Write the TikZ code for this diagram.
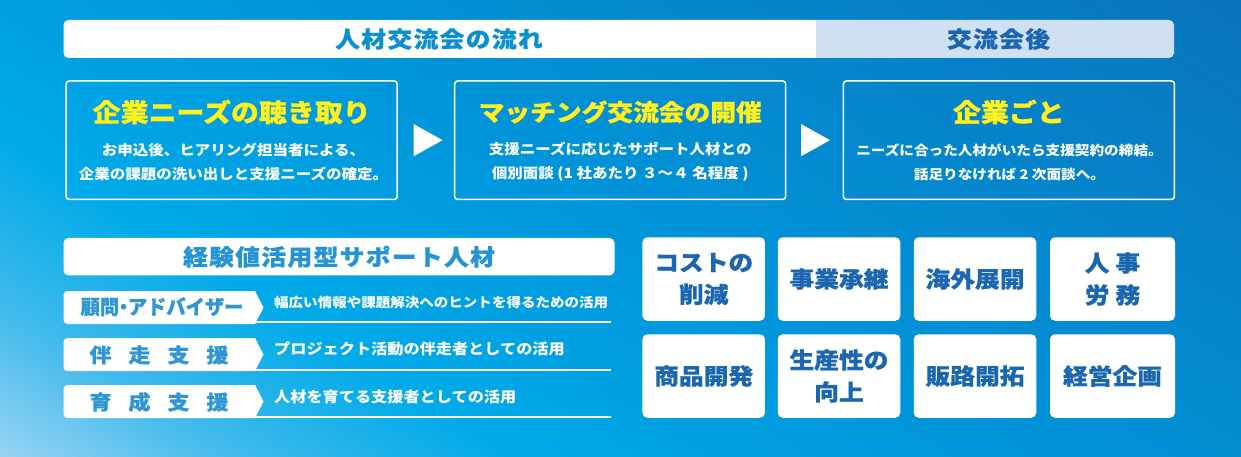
\documentclass[tikz,border=0pt]{standalone}
\usepackage{fontspec}
\setmainfont{Noto Sans CJK JP}[FakeStretch=1.1]
\definecolor{bgA}{HTML}{96D3F3}
\definecolor{bgB}{HTML}{40BAEC}
\definecolor{bgC}{HTML}{00AAE8}
\definecolor{bgD}{HTML}{0095DA}
\definecolor{bgE}{HTML}{0A74BC}
\definecolor{flowblue}{HTML}{0A8FD3}
\definecolor{afterblue}{HTML}{1A66B0}
\definecolor{afterfill}{HTML}{D0E0F3}
\definecolor{tagblue}{HTML}{2F96D6}
\definecolor{titleyellow}{HTML}{FFF01E}
\pgfdeclarehorizontalshading{bgfade}{100bp}{color(0bp)=(bgA); color(35.5bp)=(bgA); color(39bp)=(bgB); color(43bp)=(bgC); color(50bp)=(bgD); color(64.5bp)=(bgE); color(100bp)=(bgE)}
\tikzset{
	px/.style={x=1pt, y=-1pt},
	headtext/.style={font=\fontsize{22.5}{24}\selectfont\bfseries\addfontfeature{LetterSpace=6,FakeBold=0.6}},
	flowbox/.style={draw=white, line width=1.5pt, rounded corners=3pt, minimum width=331pt, minimum height=118.5pt, inner sep=0pt},
	flowtitle/.style={font=\fontsize{25.4}{28}\selectfont\bfseries\addfontfeature{FakeBold=0.6}, text=titleyellow, inner sep=0pt},
	flowsub/.style={font=\fontsize{14.1}{24}\selectfont\bfseries, text=white, align=center, inner sep=0pt},
	tagtext/.style={font=\fontsize{20}{24}\selectfont\bfseries\addfontfeature{FakeBold=0.6}, text=tagblue, inner sep=0pt},
	tagsub/.style={font=\fontsize{14.7}{16}\selectfont\bfseries, text=white, anchor=west, inner sep=0pt},
	chip/.style={fill=white, rounded corners=5pt, minimum width=122.5pt, minimum height=83.5pt, inner sep=0pt, font=\fontsize{22.5}{32}\selectfont\bfseries\addfontfeature{FakeBold=0.6}, text=afterblue, align=center},
}
\begin{document}
\begin{tikzpicture}[px]
	\useasboundingbox (0,0) rectangle (1241,457);
	\begin{scope}
		\clip (0,0) rectangle (1241,457);
		\shade[shading=bgfade, shading angle=58] (-279.5,-671.5) rectangle (1520.5,1128.5);
	\end{scope}

	\fill[white] (816,20) [rounded corners=5pt] -- (63.5,20) -- (63.5,58) [sharp corners] -- (816,58) -- cycle;
	\fill[afterfill] (816,20) [rounded corners=5pt] -- (1174,20) -- (1174,58) [sharp corners] -- (816,58) -- cycle;
	\node[headtext, text=flowblue] (flowhead) at (439,39) {人材交流会の流れ};
	\node[headtext, text=afterblue] (afterhead) at (998.5,39) {交流会後};

	\node[flowbox] (hearbox) at (231.7,140.2) {};
	\node[flowbox] (matchbox) at (620.2,140.2) {};
	\node[flowbox] (companybox) at (1008.9,140.2) {};

	\node[flowtitle] (heartitle) at (hearbox.center |- 0,112) {企業ニーズの聴き取り};
	\node[flowtitle, font=\fontsize{23.4}{28}\selectfont\bfseries\addfontfeature{FakeBold=0.6}] (matchtitle) at (matchbox.center |- 0,112) {マッチング交流会の開催};
	\node[flowtitle] (companytitle) at (companybox.center |- 0,112) {企業ごと};

	\node[flowsub] (hearsub) at (233.5,162) {お申込後、ヒアリング担当者による、\\企業の課題の洗い出しと支援ニーズの確定。};
	\node[flowsub] (matchsub) at (matchbox.center |- 0,162) {支援ニーズに応じたサポート人材との\\個別面談 (1 社あたり ３～４ 名程度 )};
	\node[flowsub, font=\fontsize{13.3}{24}\selectfont\bfseries] (companysub) at (1009.5,162) {ニーズに合った人材がいたら支援契約の締結。\\話足りなければ 2 次面談へ。};

	\foreach \ax in {413.5,801}
		\fill[white] (\ax,124) -- (\ax+29,140.2) -- (\ax,156.3) -- cycle;

	\node[fill=white, rounded corners=5pt, minimum width=551pt, minimum height=37.5pt, inner sep=0pt, headtext, text=tagblue!70!flowblue] (staffhead) at (339,256.7) {経験値活用型サポート人材};

	\foreach \tagtop/\ruley/\subname/\subtop/\subfont/\subtext in {
		291/322/advisorsub/302.7/13.2/幅広い情報や課題解決へのヒントを得るための活用,
		338/370/runnersub/349/14.7/プロジェクト活動の伴走者としての活用,
		385/417/growsub/396.7/14.7/人材を育てる支援者としての活用}{
		\fill[white] (255,\tagtop) [rounded corners=4pt] -- (63.5,\tagtop) -- (63.5,\tagtop+33) [sharp corners] -- (255,\tagtop+33) -- (263.5,\tagtop+16.5) -- cycle;
		\draw[white, line width=1.4pt] (255,\ruley) -- (610.5,\ruley);
		\node[tagsub, font=\fontsize{\subfont}{16}\selectfont\bfseries] (\subname) at (274,\subtop) {\subtext};
	}
	\node[tagtext] (advisortag) at (162,306.7) {\scalebox{0.875}[1]{顧問\hspace{-6pt}・\hspace{-6pt}アドバイザー}};
	\node[tagtext] (runnertag) at (159,355) {伴\hspace{17pt}走\hspace{17pt}支\hspace{17pt}援};
	\node[tagtext] (growtag) at (159,402) {育\hspace{17pt}成\hspace{17pt}支\hspace{17pt}援};

	\node[chip] (costchip) at (703.7,279) {コストの\\削減};
	\node[chip] (succeedchip) at (839,279) {事業承継};
	\node[chip] (overseaschip) at (975,279) {海外展開};
	\node[chip, minimum width=125pt] (laborchip) at (1112.5,279) {人\hspace{6pt}事\\労\hspace{6pt}務};
	\node[chip] (productchip) at (703.7,376) {商品開発};
	\node[chip] (yieldchip) at (839,376) {生産性の\\向上};
	\node[chip] (saleschip) at (975,376) {販路開拓};
	\node[chip, minimum width=125pt] (planchip) at (1112.5,376) {経営企画};
\end{tikzpicture}
\end{document}
